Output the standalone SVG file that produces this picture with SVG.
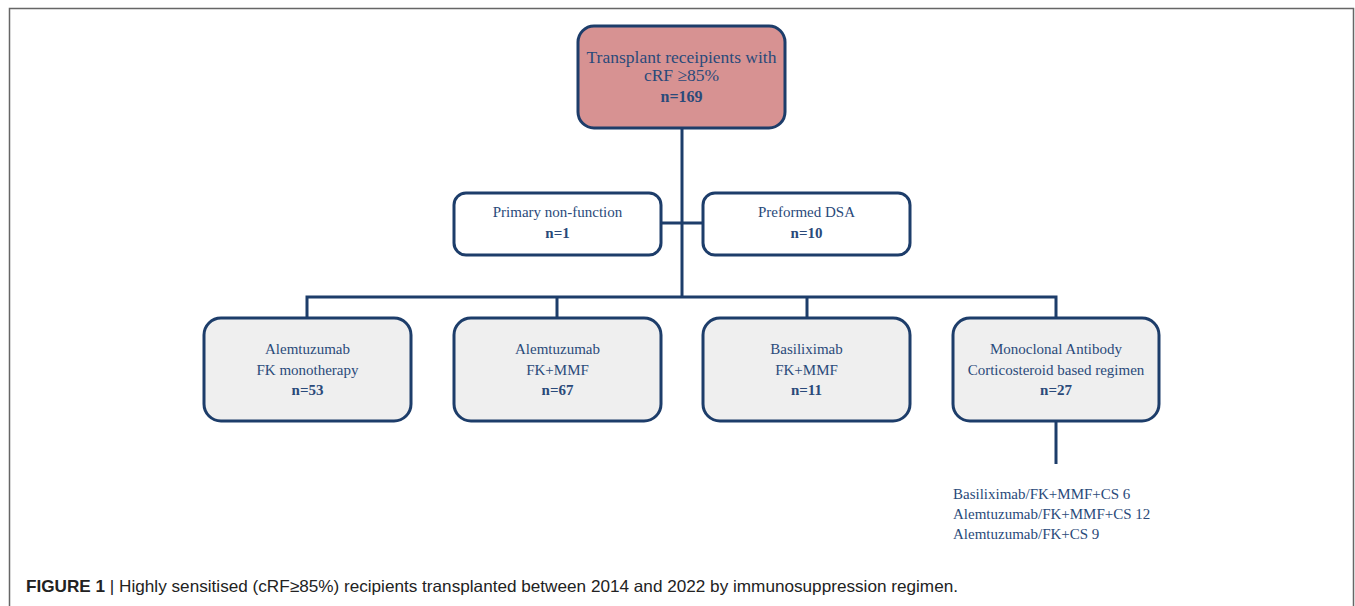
<svg xmlns="http://www.w3.org/2000/svg" width="1355" height="606" viewBox="0 0 1355 606">
<style>
.box{fill:#efefef;stroke:#1d3d6a;stroke-width:3}
.top{fill:#d79292;stroke:#1d3d6a;stroke-width:3}
.white{fill:#ffffff;stroke:#1d3d6a;stroke-width:3}
.conn{fill:none;stroke:#1d3d6a;stroke-width:3}
.t{font-family:"Liberation Serif",serif;font-size:15px;fill:#2a4a7a;text-anchor:middle}
.tt{font-size:17.5px}
.tn{font-size:16px}
.b{font-weight:bold}
.l{font-family:"Liberation Serif",serif;font-size:15px;fill:#2a4a7a}
.cap{font-family:"Liberation Sans",Arial,sans-serif;font-size:16.5px;fill:#222}
</style>
<rect width="1355" height="606" fill="#ffffff"/>
<path d="M9.5 606 V8.5 H1353.5 V606" fill="none" stroke="#666" stroke-width="1.5"/>
<g id="connectors">
<path class="conn" d="M682 129 V297"/>
<path class="conn" d="M661 223 H703"/>
<path class="conn" d="M307 318 V297 H1056 V318"/>
<path class="conn" d="M557 297 V318"/>
<path class="conn" d="M807 297 V318"/>
<path class="conn" d="M1056 421 V464"/>
</g>
<g id="root">
<rect class="top" x="578" y="26" width="207" height="102" rx="16"/>
<text class="t tt" x="681.5" y="63">Transplant receipients with</text>
<text class="t tt" x="681.5" y="81">cRF ≥85%</text>
<text class="t b tn" x="681.5" y="102">n=169</text>
</g>
<g id="pnf">
<rect class="white" x="454" y="193" width="207" height="62" rx="12"/>
<text class="t" x="557.5" y="217">Primary non-function</text>
<text class="t b" x="557.5" y="238">n=1</text>
</g>
<g id="dsa">
<rect class="white" x="703" y="193" width="207" height="62" rx="12"/>
<text class="t" x="806.5" y="217">Preformed DSA</text>
<text class="t b" x="806.5" y="238">n=10</text>
</g>
<g id="alem-mono">
<rect class="box" x="204" y="318" width="207" height="103" rx="17"/>
<text class="t" x="307.5" y="354">Alemtuzumab</text>
<text class="t" x="307.5" y="375">FK monotherapy</text>
<text class="t b" x="307.5" y="395">n=53</text>
</g>
<g id="alem-mmf">
<rect class="box" x="454" y="318" width="207" height="103" rx="17"/>
<text class="t" x="557.5" y="354">Alemtuzumab</text>
<text class="t" x="557.5" y="375">FK+MMF</text>
<text class="t b" x="557.5" y="395">n=67</text>
</g>
<g id="basil">
<rect class="box" x="703" y="318" width="207" height="103" rx="17"/>
<text class="t" x="806.5" y="354">Basiliximab</text>
<text class="t" x="806.5" y="375">FK+MMF</text>
<text class="t b" x="806.5" y="395">n=11</text>
</g>
<g id="mono">
<rect class="box" x="953" y="318" width="206" height="103" rx="17"/>
<text class="t" x="1056" y="354">Monoclonal Antibody</text>
<text class="t" x="1056" y="375">Corticosteroid based regimen</text>
<text class="t b" x="1056" y="395">n=27</text>
</g>
<g id="breakdown">
<text class="l" x="953" y="499">Basiliximab/FK+MMF+CS 6</text>
<text class="l" x="953" y="519">Alemtuzumab/FK+MMF+CS 12</text>
<text class="l" x="953" y="539">Alemtuzumab/FK+CS 9</text>
</g>
<g id="caption">
<text class="cap" x="26" y="592" textLength="932" lengthAdjust="spacingAndGlyphs"><tspan font-weight="bold">FIGURE 1</tspan> | Highly sensitised (cRF≥85%) recipients transplanted between 2014 and 2022 by immunosuppression regimen.</text>
</g>
</svg>
